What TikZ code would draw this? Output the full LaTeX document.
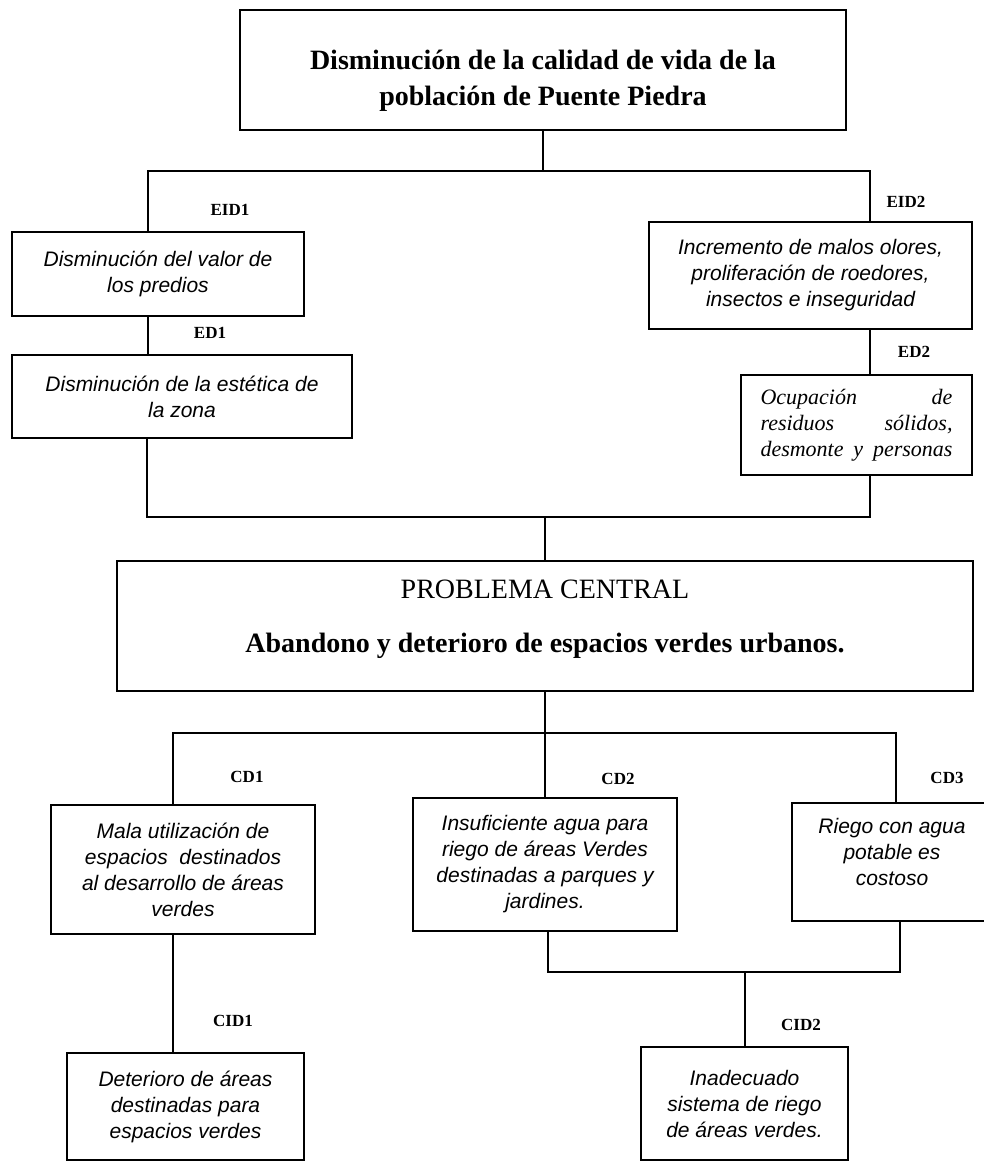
\documentclass[tikz,border=0pt]{standalone}
\usepackage{fontspec}
\setmainfont{Liberation Serif}
\newfontfamily\arialfont{Liberation Sans}

\begin{document}
\begin{tikzpicture}[
    x=1pt, y=-1pt,
    box/.style={rectangle, draw=black, line width=2.2pt, inner sep=0pt, align=center},
    effbox/.style={box, font=\arialfont\itshape\fontsize{21}{26}\selectfont},
    causebox/.style={effbox, line width=1.5pt},
    tag/.style={font=\bfseries\fontsize{17}{17}\selectfont},
    link/.style={line width=2pt}
  ]
  \useasboundingbox (0,0) rectangle (984,1163);

  % Main effect
  \node[box, minimum width=606pt, minimum height=120pt, font=\bfseries\fontsize{28}{36}\selectfont] (top) at (543,70)
    {\rule{0pt}{40pt}Disminución de la calidad de vida de la\\población de Puente Piedra};

  % Effects
  \node[effbox, minimum width=292pt, minimum height=84pt] (eid1) at (158,274) {Disminución del valor de\\los predios};
  \node[effbox, minimum width=340pt, minimum height=83pt] (ed1) at (182,396.5) {Disminución de la estética de\\la zona};
  \node[effbox, minimum width=323pt, minimum height=107pt] (eid2) at (810.5,275.5)
    {Incremento de malos olores,\\proliferación de roedores,\\insectos e inseguridad};
  \node[box, minimum width=231pt, minimum height=100pt, text width=192pt, align=left,
        font=\itshape\fontsize{22}{26}\selectfont] (ed2) at (856.5,425)
    {Ocupación\hfill de\\residuos\hfill sólidos,\\desmonte\hfill y\hfill personas};

  % Central problem
  \node[box, minimum width=856pt, minimum height=130pt, font=\fontsize{28}{34}\selectfont] (central) at (545,626)
    {PROBLEMA CENTRAL\\[20pt]\textbf{Abandono y deterioro de espacios verdes urbanos.}\rule[-20pt]{0pt}{1pt}};

  % Causes
  \node[causebox, minimum width=264pt, minimum height=129pt] (cd1) at (183,869.5)
    {Mala utilización de\\espacios\ \ destinados\\al desarrollo de áreas\\verdes};
  \node[causebox, minimum width=264pt, minimum height=133pt] (cd2) at (545,864.5)
    {Insuficiente agua para\\riego de áreas Verdes\\destinadas a parques y\\jardines.};
  \node[causebox, minimum width=200pt, minimum height=118pt] (cd3) at (892,862)
    {Riego con agua\\potable es\\costoso\rule[-20pt]{0pt}{1pt}};
  \node[causebox, minimum width=237pt, minimum height=107pt] (cid1) at (185.5,1106.5)
    {Deterioro de áreas\\destinadas para\\espacios verdes};
  \node[causebox, minimum width=207pt, minimum height=113pt] (cid2) at (744.5,1103.5)
    {Inadecuado\\sistema de riego\\de áreas verdes.};

  % Tags
  \node[tag] (teid1) at (230,210) {EID1};
  \node[tag] (ted1) at (210,333) {ED1};
  \node[tag] (teid2) at (906,202) {EID2};
  \node[tag] (ted2) at (914,352) {ED2};
  \node[tag] (tcd1) at (247,777) {CD1};
  \node[tag] (tcd2) at (618,779) {CD2};
  \node[tag] (tcd3) at (947,778) {CD3};
  \node[tag] (tcid1) at (233,1021) {CID1};
  \node[tag] (tcid2) at (801,1025) {CID2};

  % Effect tree
  \coordinate (ea) at (148,171);
  \coordinate (eb) at (870,171);
  \draw[link] (top.south) -- (top.south |- ea);
  \draw[link] (ea |- eid1.north) -- (ea) -- (eb) -- (eb |- eid2.north);
  \draw[link] (ea |- eid1.south) -- (ea |- ed1.north);
  \draw[link] (eb |- eid2.south) -- (eb |- ed2.north);
  \coordinate (ma) at (147,517);
  \coordinate (mb) at (870,517);
  \draw[link] (ma |- ed1.south) -- (ma) -- (mb) -- (mb |- ed2.south);
  \draw[link] (central.north) -- (central.north |- ma);

  % Cause tree
  \coordinate (ca) at (173,733);
  \coordinate (cb) at (896,733);
  \draw[link] (central.south) -- (central.south |- ca);
  \draw[link] (ca |- cd1.north) -- (ca) -- (cb) -- (cb |- cd3.north);
  \draw[link] (central.south |- ca) -- (cd2.north);
  \draw[link] (ca |- cd1.south) -- (ca |- cid1.north);
  \coordinate (ja) at (548,972);
  \coordinate (jb) at (900,972);
  \draw[link] (ja |- cd2.south) -- (ja) -- (jb) -- (jb |- cd3.south);
  \draw[link] (cid2.north |- ja) -- (cid2.north);

\end{tikzpicture}
\end{document}
